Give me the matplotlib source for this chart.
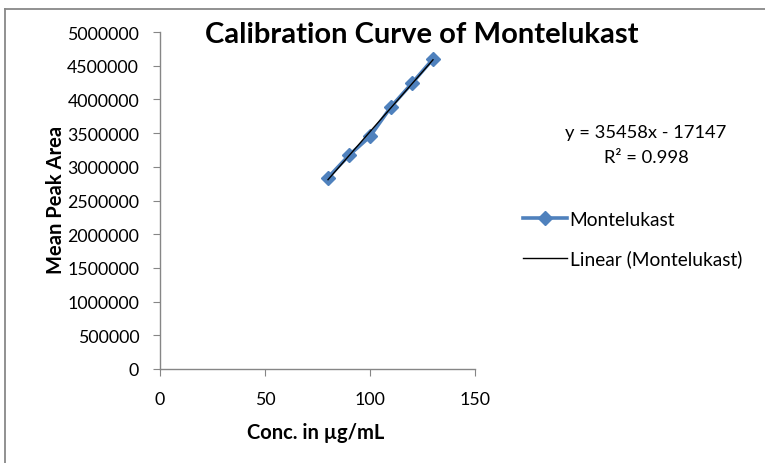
import numpy as np
import matplotlib
matplotlib.use("Agg")
import matplotlib.pyplot as plt
from matplotlib.lines import Line2D

conc = [80, 90, 100, 110, 120, 130]
peak_area = [2840000, 3170000, 3450000, 3890000, 4240000, 4600000]
series_name = "Montelukast"
equation_text = "y = 35458x - 17147"
r2_text = "R\u00b2 = 0.998"
x_ticks = [0, 50, 100, 150]
y_ticks = list(range(0, 5000001, 500000))

plt.rcParams['font.family'] = ['Lato', 'DejaVu Sans']

fig = plt.figure(figsize=(7.65, 4.64), dpi=100)
ax = fig.add_axes([160/765, 1-370/464, (475-160)/765, (370-33)/464])

blue = "#4F81BD"
ax.plot(conc, peak_area, color=blue, lw=2.6, marker='D', ms=7.5,
        mec=blue, mfc=blue, label=series_name, zorder=2)
coef = np.polyfit(conc, peak_area, 1)
xs = np.array([conc[0], conc[-1]])
ax.plot(xs, np.polyval(coef, xs), color='black', lw=1.0, zorder=3,
        label="Linear (" + series_name + ")")

ax.set_xlim(0, 150)
ax.set_ylim(0, 5000000)
ax.set_xticks(x_ticks)
ax.set_yticks(y_ticks)
ax.set_xticklabels([str(t) for t in x_ticks])
ax.set_yticklabels([str(t) for t in y_ticks])
for s in ['top', 'right']:
    ax.spines[s].set_visible(False)
for s in ['left', 'bottom']:
    ax.spines[s].set_color('#868686')
    ax.spines[s].set_linewidth(1.0)
ax.tick_params(direction='out', length=5, color='#868686', labelsize=12.8,
               labelcolor='black')
ax.tick_params(axis='y', pad=10)
ax.tick_params(axis='x', pad=11)

ax.set_xlabel("Conc. in \u00b5g/mL", fontsize=14.5, fontweight='bold')
ax.set_ylabel("Mean Peak Area", fontsize=14.5, fontweight='bold')
ax.xaxis.set_label_coords((316-160)/315, (370-433)/337)
ax.yaxis.set_label_coords((56-160)/315, (370-200)/337)
ax.xaxis.label.set_va('center')
ax.yaxis.label.set_va('center')

fig.text(422/765, 1-35/464, "Calibration Curve of Montelukast", fontsize=21,
         fontweight='bold', ha='center', va='center')
fig.text(646/765, 1-133/464, equation_text, fontsize=13.2, ha='center', va='center')
fig.text(646/765, 1-158/464, r2_text, fontsize=13.2, ha='center', va='center')

handles = [Line2D([], [], color=blue, lw=2.6, marker='D', ms=7.5),
           Line2D([], [], color='black', lw=1.0)]
fig.legend(handles, [series_name, "Linear (" + series_name + ")"],
           loc='upper left', bbox_to_anchor=(515/765, 1-204/464),
           frameon=False, fontsize=13.8, handlelength=2.3, handletextpad=0.15,
           labelspacing=1.15, borderaxespad=0)

# chart border (top and left)
fig.add_artist(Line2D([5/765, 5/765], [0, 1-10/464], transform=fig.transFigure,
                      color='#888888', lw=1.3))
fig.add_artist(Line2D([5/765, 1], [1-10/464, 1-10/464], transform=fig.transFigure,
                      color='#888888', lw=1.3))

fig.savefig("out.png", dpi=100)
